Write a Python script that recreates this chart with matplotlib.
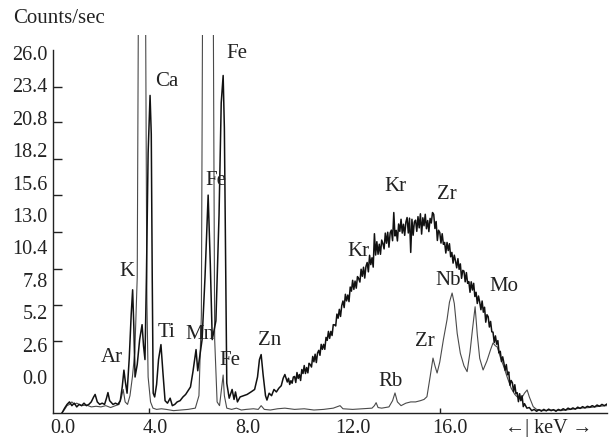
import matplotlib
matplotlib.use("Agg")
import matplotlib.pyplot as plt

plt.rcParams['font.family'] = ['Liberation Serif', 'DejaVu Serif']

# ------------------------------------------------------------------------------
# Spectrum values (energy in keV, counts/sec)
# ------------------------------------------------------------------------------
# black, noisy spectrum (broad Kr/Zr hump)
a_kev = [
    0.39, 0.5, 0.6, 0.7, 0.8, 0.9, 1.0, 1.1, 1.2, 1.3, 1.4, 1.5, 1.6, 1.7, 1.76,
    1.85, 1.95, 2.05, 2.15, 2.23, 2.29, 2.36, 2.5, 2.6, 2.7, 2.8, 2.88, 2.95,
    3.01, 3.08, 3.17, 3.25, 3.31, 3.36, 3.41, 3.5, 3.6, 3.7, 3.76, 3.82, 3.88,
    3.95, 4.03, 4.08, 4.12, 4.16, 4.22, 4.3, 4.38, 4.48, 4.56, 4.65, 4.75, 4.86,
    4.95, 5.05, 5.15, 5.27, 5.39, 5.5, 5.6, 5.7, 5.8, 5.93, 6.0, 6.08, 6.18,
    6.3, 6.43, 6.52, 6.6, 6.75, 6.88, 6.97, 7.05, 7.1, 7.15, 7.2, 7.3, 7.42,
    7.5, 7.56, 7.64, 7.75, 7.9, 8.04, 8.2, 8.35, 8.47, 8.55, 8.62, 8.7, 8.8,
    8.86, 8.95, 9.05, 9.15, 9.25, 9.35, 9.45, 9.53, 9.6, 9.7, 9.75, 9.8, 9.85,
    9.9, 9.95,
    10.0, 10.05, 10.1, 10.15, 10.2, 10.25, 10.3, 10.35, 10.4, 10.45,
    10.5, 10.55, 10.6, 10.65, 10.7, 10.75, 10.8, 10.85, 10.9, 10.95,
    11.0, 11.05, 11.1, 11.15, 11.2, 11.25, 11.3, 11.35, 11.4, 11.45,
    11.5, 11.55, 11.6, 11.65, 11.7, 11.75, 11.8, 11.85, 11.9, 11.95,
    12.0, 12.05, 12.1, 12.15, 12.2, 12.25, 12.3, 12.35, 12.4, 12.45,
    12.5, 12.55, 12.6, 12.65, 12.7, 12.75, 12.8, 12.85, 12.9, 12.95,
    13.0, 13.05, 13.1, 13.15, 13.2, 13.25, 13.3, 13.35, 13.4, 13.45,
    13.5, 13.55, 13.6, 13.65, 13.7, 13.75, 13.8, 13.85, 13.9, 13.95,
    14.0, 14.05, 14.1, 14.15, 14.2, 14.25, 14.3, 14.35, 14.4, 14.45,
    14.5, 14.55, 14.6, 14.65, 14.7, 14.75, 14.8, 14.85, 14.9, 14.95,
    15.0, 15.05, 15.1, 15.15, 15.2, 15.25, 15.3, 15.35, 15.4, 15.45,
    15.5, 15.55, 15.6, 15.65, 15.7, 15.75, 15.8, 15.85, 15.9, 15.95,
    16.0, 16.05, 16.1, 16.15, 16.2, 16.25, 16.3, 16.35, 16.4, 16.45,
    16.5, 16.55, 16.6, 16.65, 16.7, 16.75, 16.8, 16.85, 16.9, 16.95,
    17.0, 17.05, 17.1, 17.15, 17.2, 17.25, 17.3, 17.35, 17.4, 17.45,
    17.5, 17.55, 17.6, 17.65, 17.7, 17.75, 17.8, 17.85, 17.9, 17.95,
    18.0, 18.05, 18.1, 18.15, 18.2, 18.25, 18.3, 18.35, 18.4, 18.45,
    18.5, 18.55, 18.6, 18.65, 18.7, 18.75, 18.8, 18.85, 18.9, 18.95,
    19.0, 19.05, 19.1, 19.15, 19.2, 19.25, 19.3, 19.35, 19.4, 19.45,
    19.5, 19.6, 19.7, 19.8, 19.9, 20.0, 20.1, 20.2, 20.3, 20.4, 20.5, 20.6,
    20.7, 20.8, 20.9, 21.0, 21.1, 21.2, 21.3, 21.4, 21.5, 21.6, 21.7, 21.8,
    21.9, 22.0, 22.1, 22.2, 22.3, 22.4, 22.5, 22.6, 22.7, 22.8, 22.9,
]
a_cps = [
    -2.89, -2.5, -2.2, -2.0, -2.3, -2.1, -2.4, -2.2, -2.3, -2.1, -2.3, -2.2,
    -2.0, -1.6, -1.4, -2.0, -2.2, -2.1, -2.2, -1.7, -1.25, -1.9, -2.2, -2.1,
    -2.2, -1.9, -0.8, 0.55, -0.4, -1.3, 1.5, 5.0, 7.0, 4.0, 0.0, 1.0, 3.0, 4.2,
    2.5, 1.4, 8.0, 18.0, 22.6, 19.5, 8.0, -1.3, -1.6, -0.6, 1.4, 2.6, 0.4,
    -1.9, -2.1, -1.7, -2.3, -2.2, -2.0, -1.9, -1.6, -1.4, -1.1, -0.8, 0.4, 2.2,
    0.5, 1.6, 3.0, 8.0, 14.6, 9.0, 3.0, 4.5, 13.0, 22.0, 24.2, 20.0, 10.0, -0.5,
    -1.7, -1.0, -1.8, -1.2, -2.0, -1.6, -1.5, -1.4, -1.2, -1.0, 0.0, 1.4, 1.8,
    0.2, -1.5, -1.85, -1.3, -1.5, -1.0, -1.2, -0.9, -0.7, -0.1, 0.2, -0.4, -0.1,
    -0.6, -0.3, -0.5, 0.0,
    0.04, -0.44, 0.36, -0.12, 0.2, -0.28, 0.6, 0.28, 0.92, 0.28,
    0.76, 0.33, 1.1, 0.99, 0.8, 1.65, 1.22, 1.83, 1.16, 1.93,
    2.14, 1.74, 2.62, 2.22, 2.62, 2.22, 3.18, 2.94, 3.66, 3.1,
    3.66, 3.33, 4.2, 4.19, 4.1, 5.05, 4.72, 5.43, 4.86, 5.73,
    6.1, 5.57, 6.64, 6.11, 6.58, 6.05, 7.22, 6.89, 7.76, 7.03,
    7.7, 7.13, 8.06, 7.89, 7.62, 8.65, 8.08, 8.81, 7.94, 8.87,
    9.19, 8.44, 9.77, 9.02, 9.57, 8.82, 11.5, 9.79, 10.86, 9.85,
    10.66, 9.85, 10.99, 10.7, 10.28, 11.55, 10.74, 11.62, 10.42, 11.56,
    11.79, 10.94, 13.2, 11.32, 11.77, 10.92, 12.28, 11.69, 12.66, 11.55,
    12.26, 11.37, 12.43, 12.8, 11.56, 12.75, 10.0, 12.66, 11.38, 12.44,
    12.59, 11.69, 12.87, 11.97, 13.1, 11.47, 12.78, 12.14, 13.06, 11.9,
    12.56, 11.67, 12.73, 12.36, 13.2, 13.05, 11.92, 12.48, 10.96, 11.78,
    11.6, 10.75, 11.5, 10.65, 10.8, 9.95, 10.8, 10.15, 10.7, 9.65,
    10.0, 9.14, 9.78, 9.32, 8.76, 9.5, 8.64, 9.08, 7.92, 8.56,
    8.5, 7.64, 8.38, 7.52, 7.66, 6.8, 7.64, 6.98, 7.52, 6.46,
    6.8, 5.9, 6.5, 6.0, 5.4, 6.1, 5.2, 5.6, 4.4, 5.0,
    4.84, 4.01, 4.46, 3.63, 3.6, 2.77, 3.3, 2.63, 2.92, 1.93,
    2.06, 1.24, 1.62, 1.12, 0.54, 1.0, 0.18, 0.4, -0.66, -0.28,
    -0.46, -1.18, -0.62, -1.34, -1.26, -1.98, -1.34, -1.9, -1.5, -2.38,
    -2.14, -2.5, -2.45, -2.7, -2.6, -2.75, -2.62, -2.74, -2.6, -2.72, -2.58,
    -2.7, -2.62, -2.75, -2.6, -2.68, -2.55, -2.66, -2.5, -2.6, -2.48, -2.58,
    -2.42, -2.52, -2.38, -2.48, -2.35, -2.42, -2.3, -2.4, -2.25, -2.35, -2.2,
    -2.3, -2.18,
]

# grey, thin spectrum (Ca / Fe off scale, Zr Nb Mo peaks)
b_kev = [
    0.39, 0.5, 0.6, 0.7, 0.8, 0.9, 1.0, 1.2, 1.4, 1.6, 1.8, 2.0, 2.2, 2.4, 2.6,
    2.75, 2.85, 2.92, 3.0, 3.1, 3.2, 3.3, 3.4, 3.5, 3.57, 3.82, 3.9, 3.95, 4.05,
    4.15, 4.3, 4.5, 4.7, 5.0, 5.3, 5.6, 5.9, 6.05, 6.15, 6.22, 6.62, 6.7, 6.8,
    6.9, 6.98, 7.05, 7.1, 7.2, 7.4, 7.6, 7.8, 8.0, 8.3, 8.5, 8.62, 8.75, 9.0,
    9.3, 9.6, 10.0, 10.4, 10.8, 11.2, 11.6, 11.88, 12.0, 12.4, 12.8, 13.2, 13.3,
    13.37, 13.45, 13.6, 13.9, 14.05, 14.15, 14.25, 14.4, 14.6, 14.8, 15.0, 15.2,
    15.35, 15.47, 15.6, 15.72, 15.8, 15.89, 16.0, 16.15, 16.3, 16.4, 16.51,
    16.6, 16.72, 16.85, 17.0, 17.13, 17.25, 17.35, 17.46, 17.55, 17.65, 17.79,
    17.95, 18.1, 18.2, 18.3, 18.37, 18.5, 18.65, 18.78, 18.95, 19.1, 19.19,
    19.35, 19.5, 19.61, 19.7, 19.86, 20.0, 20.3, 20.6, 21.0, 21.4, 21.8, 22.2,
    22.6, 22.9,
]
b_cps = [
    -2.89, -2.6, -2.3, -2.2, -2.0, -2.2, -2.1, -2.3, -2.25, -2.4, -2.35, -2.4,
    -2.3, -2.45, -2.3, -2.2, -1.6, -1.0, -2.0, -2.2, -1.5, 0.0, 2.0, 8.0, 40.0,
    40.0, 6.0, 0.0, -2.0, -2.5, -2.6, -2.55, -2.6, -2.7, -2.65, -2.6, -2.5,
    -1.5, 5.0, 40.0, 40.0, 3.0, -2.0, -2.3, -1.0, 0.16, -1.5, -2.5, -2.6,
    -2.5, -2.65, -2.6, -2.55, -2.6, -2.3, -2.6, -2.65, -2.55, -2.5, -2.6,
    -2.55, -2.65, -2.6, -2.5, -2.3, -2.55, -2.6, -2.55, -2.5, -2.3,
    -2.06, -2.45, -2.5, -2.4, -1.9, -1.28, -2.0, -2.3, -2.1, -2.0, -2.0, -1.9,
    -1.8, -1.58, 0.0, 1.52, 0.9, 0.32, 1.2, 3.0, 4.6, 6.0, 6.74,
    5.9, 3.5, 1.9, 0.9, 0.43, 2.0, 3.8, 5.64, 3.4, 1.5, 0.56,
    1.3, 2.2, 2.73, 2.5, 2.43, 1.6, 0.8, 0.02, -0.9, -1.4, -1.58,
    -1.8, -1.3, -1.04, -1.6, -2.38, -2.6, -2.7, -2.65, -2.7, -2.6, -2.5, -2.45,
    -2.35, -2.3,
]

# peak names and where their labels sit (keV, counts/sec)
peak_names = ['Ca', 'Fe', 'Fe', 'K', 'Ar', 'Ti', 'Mn', 'Fe', 'Zn',
              'Kr', 'Kr', 'Zr', 'Nb', 'Mo', 'Zr', 'Rb']
peak_x = [4.72, 7.61, 6.76, 3.07, 2.45, 4.69, 6.10, 7.31, 8.96,
          12.64, 14.15, 16.29, 16.36, 18.63, 15.39, 13.98]
peak_y = [23.70, 25.98, 15.81, 8.45, 1.55, 3.56, 3.45, 1.36, 2.89,
          10.06, 15.27, 14.61, 7.78, 7.25, 2.83, -0.38]

# axis labels as printed
y_labels = ['0.0', '2.6', '5.2', '7.8', '10.4', '13.0', '15.6', '18.2', '20.8', '23.4', '26.0']
y_label_pos = [0.0, 2.6, 5.2, 7.8, 10.4, 13.0, 15.6, 18.2, 20.8, 23.4, 26.0]
y_tick_marks = [0.0, 2.85, 5.78, 8.67, 11.6, 14.6, 17.49, 20.43, 23.27]
x_labels = ['0.0', '4.0', '8.0', '12.0', '16.0', '\u2190| keV \u2192']
x_label_pos = [0.43, 4.23, 8.08, 12.42, 16.42, 20.52]
x_tick_marks = [4.0, 16.0]


# ------------------------------------------------------------------------------
# Plot
# ------------------------------------------------------------------------------
fig = plt.figure(figsize=(6.1, 4.37), dpi=100)
ax = fig.add_axes([0.0861, 0.0549, 0.909, 0.865])

ax.plot(b_kev, b_cps, color='#4a4a4a', lw=0.8, zorder=2)
ax.plot(a_kev, a_cps, color='#111111', lw=1.1, zorder=3)

for name, px, py in zip(peak_names, peak_x, peak_y):
    ax.text(px, py, name, ha='center', va='center', fontsize=15,
            color='#222222', zorder=4)

ax.set_xlim(0, 22.91)
ax.set_ylim(-2.89, 27.45)

ax.spines['top'].set_visible(False)
ax.spines['right'].set_visible(False)
ax.spines['left'].set_bounds(-2.89, 26.24)
for s in ('left', 'bottom'):
    ax.spines[s].set_linewidth(1.0)
    ax.spines[s].set_color('#222222')

# labels and tick marks do not line up in the original, so split them
ax.set_yticks(y_label_pos)
ax.set_yticklabels(y_labels)
ax.set_yticks(y_tick_marks, minor=True)
ax.set_xticks(x_label_pos)
ax.set_xticklabels(x_labels)
ax.set_xticks(x_tick_marks, minor=True)

ax.tick_params(axis='both', which='major', length=0, labelsize=14.5,
               labelcolor='#222222')
ax.tick_params(axis='y', which='major', pad=3.5)
ax.tick_params(axis='x', which='major', pad=4.5)
ax.tick_params(axis='y', which='minor', direction='in', length=6.5,
               width=1.0, color='#222222')
ax.tick_params(axis='x', which='minor', direction='in', length=3.5,
               width=1.0, color='#222222')

fig.text(0.0967, 0.9588, 'Counts/sec', ha='center', va='center',
         fontsize=15, color='#222222')

fig.savefig('out.png', dpi=100)
